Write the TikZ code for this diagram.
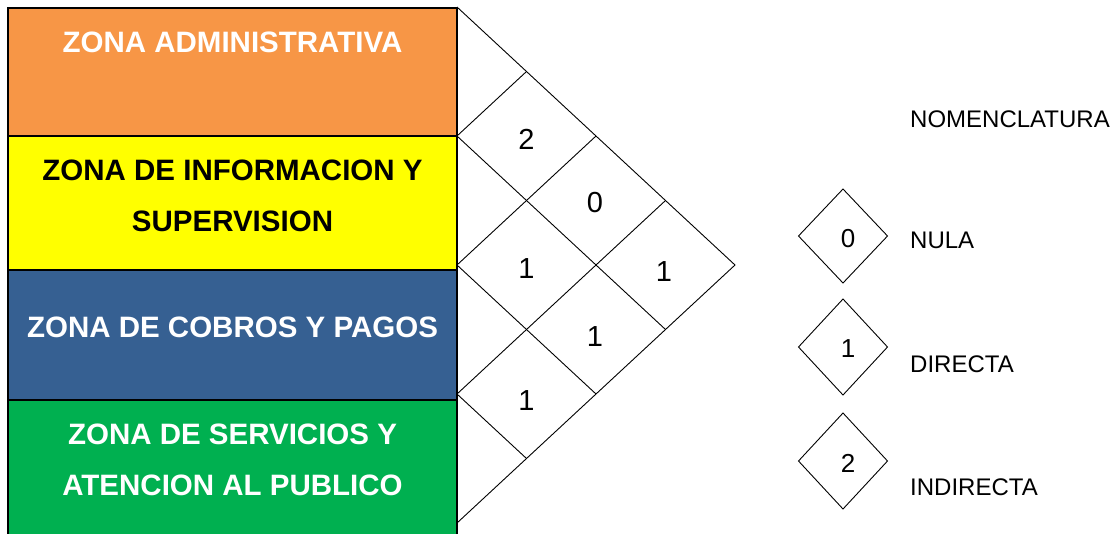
\documentclass[tikz,border=0pt]{standalone}
\usepackage{fontspec}
\setmainfont{Liberation Sans}
\definecolor{zorange}{HTML}{F79646}
\definecolor{zyellow}{HTML}{FFFF00}
\definecolor{zblue}{HTML}{366092}
\definecolor{zgreen}{HTML}{00B050}
\begin{document}
\begin{tikzpicture}[x=1pt,y=-1pt,
  zone/.style={draw=black, line width=2pt},
  ztext/.style={font=\bfseries\fontsize{29.5}{29.5}\selectfont, anchor=base, inner sep=0pt},
  gridline/.style={draw=black, line width=0.9pt},
  mdigit/.style={font=\fontsize{29}{29}\selectfont, inner sep=0pt},
  ldigit/.style={font=\fontsize{26}{26}\selectfont, inner sep=0pt},
  ldiam/.style={draw=black, line width=0.9pt},
  ltext/.style={font=\fontsize{24}{24}\selectfont, anchor=base west, inner sep=0pt}]
\useasboundingbox (0,0) rectangle (1119,533);
% zones
\path[zone, fill=zorange] (8,8) rectangle (457,136);
\path[zone, fill=zyellow] (8,136) rectangle (457,270);
\path[zone, fill=zblue] (8,270) rectangle (457,400);
\path[zone, fill=zgreen] (8,400) rectangle (457,540);
\node[ztext, text=white] (za) at (232.5,52) {ZONA ADMINISTRATIVA};
\node[ztext, text=black] (zi1) at (232.5,180) {ZONA DE INFORMACION Y};
\node[ztext, text=black] (zi2) at (232.5,231) {SUPERVISION};
\node[ztext, text=white] (zc) at (232.5,337) {ZONA DE COBROS Y PAGOS};
\node[ztext, text=white] (zs1) at (232.5,444) {ZONA DE SERVICIOS Y};
\node[ztext, text=white] (zs2) at (232.5,495) {ATENCION AL PUBLICO};
% grid points
\coordinate (L0) at (457,7);
\coordinate (L1) at (457,136);
\coordinate (L2) at (457,265);
\coordinate (L3) at (457,394);
\coordinate (L4) at (457,523);
\coordinate (R) at (735,265);
\coordinate (A1) at (526.5,71.5);
\coordinate (A2) at (596,136);
\coordinate (A3) at (665.5,200.5);
\coordinate (B1) at (526.5,458.5);
\coordinate (B2) at (596,394);
\coordinate (B3) at (665.5,329.5);
% outer lines
\draw[gridline] (L0) -- (R) -- (L4);
% down-right lines
\draw[gridline] (L1) -- (B3);
\draw[gridline] (L2) -- (B2);
\draw[gridline] (L3) -- (B1);
% up-right lines
\draw[gridline] (L1) -- (A1);
\draw[gridline] (L2) -- (A2);
\draw[gridline] (L3) -- (A3);
% values
\node[mdigit] (v12) at (526.5,139) {2};
\node[mdigit] (v23) at (595,203) {0};
\node[mdigit] (v13) at (526.5,269) {1};
\node[mdigit] (v24) at (664,272) {1};
\node[mdigit] (v34) at (595,337) {1};
\node[mdigit] (v35) at (526.5,401) {1};
% legend
\node[ltext] (nom) at (910,127) {NOMENCLATURA};
\draw[ldiam] (843,189) coordinate (d0t) -- (887.5,236) -- (843,283) -- (798.5,236) -- cycle;
\draw[ldiam] (843,299) coordinate (d1t) -- (887.5,347) -- (843,395) -- (798.5,347) -- cycle;
\draw[ldiam] (843,413) coordinate (d2t) -- (887.5,461) -- (843,509) -- (798.5,461) -- cycle;
\node[ldigit] (g0) at (848,239) {0};
\node[ldigit] (g1) at (848,349) {1};
\node[ldigit] (g2) at (848,463) {2};
\node[ltext] (nula) at (910,248) {NULA};
\node[ltext] (dir) at (910,372) {DIRECTA};
\node[ltext] (ind) at (910,495) {INDIRECTA};
\end{tikzpicture}
\end{document}
